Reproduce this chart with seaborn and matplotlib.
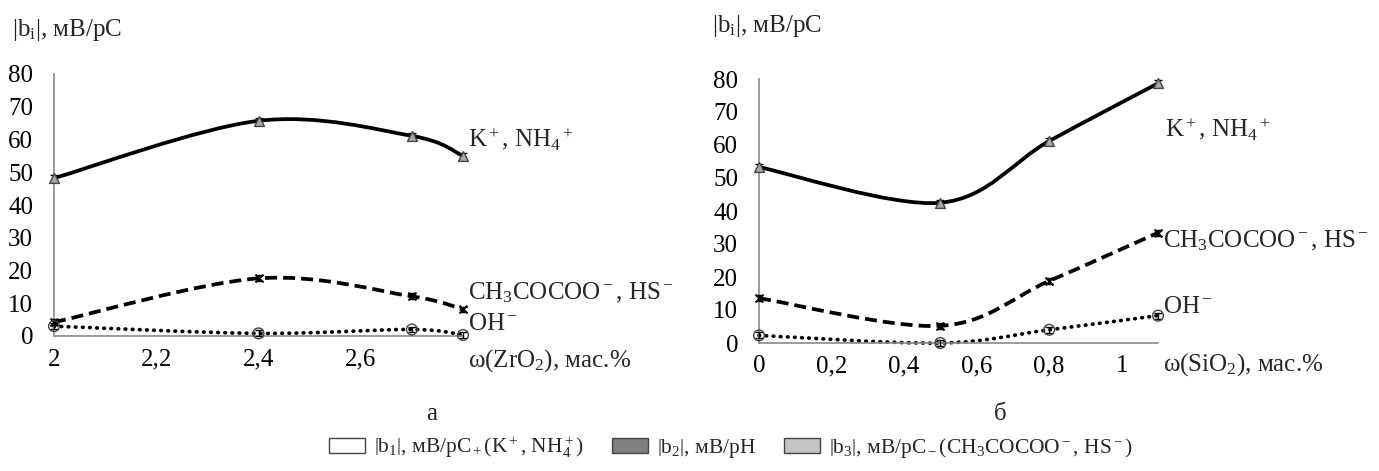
import numpy as np
import matplotlib
matplotlib.use("Agg")
import matplotlib.pyplot as plt
import seaborn as sns
from matplotlib.path import Path
from matplotlib.patches import PathPatch, Patch
from matplotlib.ticker import FuncFormatter

# panel а: ZrO2
zr_x = [2.0, 2.4, 2.7, 2.8]
zr_k = [48.2, 65.7, 61.1, 55.0]
zr_ac = [4.2, 17.6, 12.1, 8.1]
zr_oh = [3.0, 0.8, 2.0, 0.3]

# panel б: SiO2
si_x = [0.0, 0.5, 0.8, 1.1]
si_k = [53.3, 42.5, 61.2, 78.7]
si_ac = [13.6, 5.2, 18.8, 33.4]
si_oh = [2.3, 0.0, 4.0, 8.3]

err = 0.9

zr_ticks = [2.0, 2.2, 2.4, 2.6]
si_ticks = [0.0, 0.2, 0.4, 0.6, 0.8, 1.0]
y_ticks = list(range(0, 81, 10))

sns.set_style("white")
plt.rcParams["font.family"] = ["Liberation Serif", "DejaVu Serif"]
plt.rcParams["mathtext.fontset"] = "custom"
plt.rcParams["mathtext.rm"] = "Liberation Serif"
plt.rcParams["mathtext.it"] = "Liberation Serif:italic"
plt.rcParams["mathtext.bf"] = "Liberation Serif:bold"

FS = 18
AXC = "#8a8a8a"


def smooth_path(x, y):
    # excel-like smoothed line: catmull-rom as cubic bezier segments
    pts = np.column_stack([x, y]).astype(float)
    n = len(pts)
    verts = [pts[0]]
    codes = [Path.MOVETO]
    for i in range(n - 1):
        p0 = pts[i - 1] if i > 0 else pts[i]
        p1, p2 = pts[i], pts[i + 1]
        p3 = pts[i + 2] if i + 2 < n else pts[i + 1]
        verts += [p1 + (p2 - p0) / 6, p2 - (p3 - p1) / 6, p2]
        codes += [Path.CURVE4] * 3
    return Path(verts, codes)


def draw_series(ax, x, y, ls, lw, cap, marker, mfc, ms):
    patch = PathPatch(smooth_path(x, y), fill=False, edgecolor="black",
                      lw=lw, linestyle=ls, transform=ax.transData,
                      zorder=2, clip_on=False)
    patch.set_capstyle(cap)
    ax.add_patch(patch)
    ax.errorbar(x, y, yerr=err, fmt="none", ecolor="black", elinewidth=1,
                capsize=3, zorder=3, clip_on=False)
    if marker == "x":
        sns.scatterplot(x=x, y=y, marker="x", s=ms, color="black",
                        linewidth=1.4, ax=ax, zorder=4, clip_on=False)
    else:
        sns.scatterplot(x=x, y=y, marker=marker, s=ms, facecolor=mfc,
                        edgecolor="#444444", linewidth=1, ax=ax, zorder=4,
                        clip_on=False)


def style_axes(ax, xlim, xticks):
    ax.set_xlim(*xlim)
    ax.set_ylim(0, 80)
    ax.set_xticks(xticks)
    ax.set_yticks(y_ticks)
    ax.xaxis.set_major_formatter(FuncFormatter(lambda v, p: f"{v:g}".replace(".", ",")))
    sns.despine(ax=ax)
    for s in ["left", "bottom"]:
        ax.spines[s].set_color(AXC)
        ax.spines[s].set_linewidth(1.2)
    ax.tick_params(axis="both", direction="in", length=5, width=1.2,
                   color=AXC, labelsize=FS, labelcolor="black")
    ax.tick_params(axis="y", pad=15)
    ax.tick_params(axis="x", pad=9)
    ax.set_xlabel("")
    ax.set_ylabel("")


fig = plt.figure(figsize=(13.79, 4.71), dpi=100)
ax1 = fig.add_axes([54 / 1379, 1 - 336 / 471, 409 / 1379, 262 / 471])
ax2 = fig.add_axes([759 / 1379, 1 - 343 / 471, 399 / 1379, 264 / 471])

dash = (0, (3.2, 1.6))
dot = (0, (0.15, 1.75))

for ax, x, k, ac, oh in [(ax1, zr_x, zr_k, zr_ac, zr_oh),
                         (ax2, si_x, si_k, si_ac, si_oh)]:
    draw_series(ax, x, k, "-", 2.7, "butt", "^", "#a8a8a8", 50)
    draw_series(ax, x, ac, dash, 2.7, "butt", "x", None, 32)
    draw_series(ax, x, oh, dot, 2.7, "round", "o", "none", 60)

style_axes(ax1, (2.0, 2.8), zr_ticks)
style_axes(ax2, (0.0, 1.1), si_ticks)

# series labels, y-axis titles, x-axis titles
fig.text(12 / 1379, 1 - 30 / 471, r"|b$_\mathrm{i}$|, мВ/pC", fontsize=FS, va="center")
fig.text(712 / 1379, 1 - 26 / 471, r"|b$_\mathrm{i}$|, мВ/pC", fontsize=FS, va="center")

ax1.text(2.81, 60.0, r"K$^+$, NH$_4$$^+$", fontsize=FS, va="center")
ax1.text(2.81, 13.3, r"CH$_3$COCOO$^-$, HS$^-$", fontsize=FS, va="center")
ax1.text(2.81, 3.6, r"OH$^-$", fontsize=FS, va="center")
ax1.text(2.81, -7.5, r"ω(ZrO$_2$), мас.%", fontsize=FS, va="center")

ax2.text(1.12, 64.5, r"K$^+$, NH$_4$$^+$", fontsize=FS, va="center")
ax2.text(1.115, 31.0, r"CH$_3$COCOO$^-$, HS$^-$", fontsize=FS, va="center")
ax2.text(1.115, 10.8, r"OH$^-$", fontsize=FS, va="center")
ax2.text(1.115, -6.5, r"ω(SiO$_2$), мас.%", fontsize=FS, va="center")

fig.text(432 / 1379, 1 - 414 / 471, "а", fontsize=FS, ha="center", va="center")
fig.text(1000 / 1379, 1 - 414 / 471, "б", fontsize=FS, ha="center", va="center")

handles = [
    Patch(facecolor="white", edgecolor="#444444", lw=1),
    Patch(facecolor="#808080", edgecolor="#444444", lw=1),
    Patch(facecolor="#c4c4c4", edgecolor="#444444", lw=1),
]
labels = [
    r"$\left|\mathrm{b}_1\right|$, мВ/pC$_+$(K$^+$, NH$_4^+$)",
    r"$\left|\mathrm{b}_2\right|$, мВ/pH",
    r"$\left|\mathrm{b}_3\right|$, мВ/pC$_-$(CH$_3$COCOO$^-$, HS$^-$)",
]
fig.legend(handles, labels, loc="center", bbox_to_anchor=(0.53, 0.05),
           ncol=3, frameon=False, fontsize=15.5, handlelength=1.7,
           handleheight=0.7, handletextpad=0.4, columnspacing=1.3)

fig.savefig("out.png", dpi=100)
